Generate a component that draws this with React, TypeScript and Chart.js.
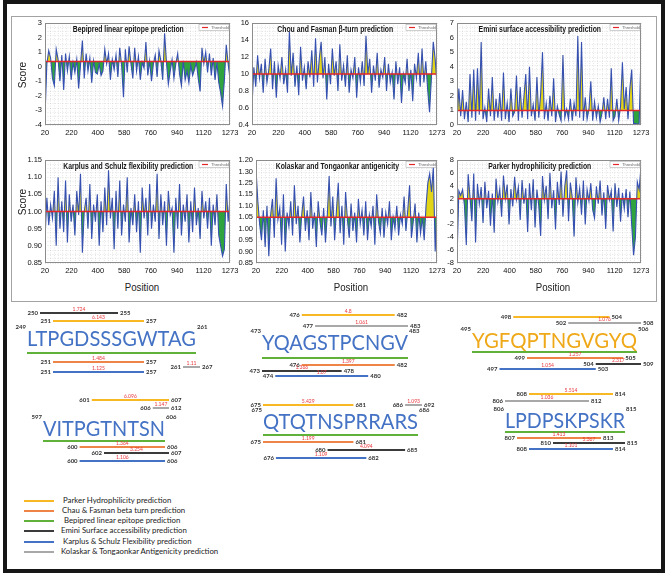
import React, { useEffect, useRef } from "react";
import { Chart, registerables } from "chart.js";

Chart.register(...registerables);

// ---------------- top panels: residue profiles ----------------
const xTickLabels = ["20", "220", "400", "580", "760", "940", "1120", "1273"];
const firstResidue = 20;
const lastResidue = 1273;

const bepipredProfile = [
  -3.4, 0.2, 1.1, 0.6, -0.8, -1.3, 1.2, 0.5, -1.0, 0.8,
  -1.6, 0.9, -0.3, 0.7, -0.9, 0.3, -0.4, 0.5, -1.5, 0.1,
  1.8, -0.8, 0.9, -0.3, 0.6, -1.1, 0.4, -0.4, -0.5, 0.2,
  -0.6, -0.3, 1.2, 0.2, 0.9, -0.9, 0.5, -0.2, 0.8, -0.7,
  1.3, 0.1, -2.1, 1.2, -0.4, 1.4, 0.2, -0.8, 1.3, -0.3,
  0.7, -0.9, 0.3, -0.1, 1.7, -0.6, 0.4, -1.0, 0.2, 0.8,
  -0.7, 1.1, 0.4, -0.9, 2.3, 0.3, -1.2, -0.3, 0.5, -0.8,
  0.2, 0.9, -0.5, -1.3, 0.4, -0.9, -0.3, -1.1, 0.1, -0.6,
  -0.2, 0.3, -0.8, -1.7, 1.3, 0.2, 1.0, -0.4, 0.9, -0.6,
  0.6, -0.9, 0.3, -1.1, -1.8, -2.7, -0.9, 1.5, 0.2, -0.8,
];
const chouFasmanProfile = [
  0.62, 1.08, 0.85, 1.22, 0.95, 1.12, 0.78, 1.18, 0.9, 1.05,
  1.3, 0.82, 1.15, 0.72, 1.1, 0.95, 1.2, 0.88, 1.05, 0.78,
  1.5, 0.98, 1.25, 0.85, 1.1, 0.75, 1.32, 0.92, 1.08, 0.82,
  1.15, 0.96, 1.28, 0.85, 1.42, 0.9, 1.18, 1.38, 0.95, 1.2,
  0.7, 1.12, 0.88, 1.3, 0.98, 1.15, 0.8, 1.35, 0.92, 1.1,
  0.85, 1.22, 0.78, 1.05, 0.95, 1.2, 0.72, 1.08, 0.9, 1.15,
  0.86, 1.45, 1.0, 1.18, 0.78, 1.1, 0.92, 1.25, 0.84, 1.05,
  0.96, 1.2, 0.8, 1.12, 0.9, 1.02, 0.7, 1.15, 0.88, 1.08,
  0.66, 1.0, 0.9, 1.18, 0.8, 1.05, 0.68, 1.12, 0.95, 1.25,
  0.85, 1.3, 0.9, 1.15, 0.82, 0.55, 0.95, 1.38, 1.18, 0.88,
];
const eminiProfile = [
  0.3, 2.5, 0.6, 2.4, 0.4, 1.6, 0.2, 3.5, 0.5, 3.8,
  0.3, 3.9, 0.7, 5.7, 0.4, 1.2, 0.2, 2.5, 0.6, 3.3,
  0.3, 1.8, 0.5, 2.2, 0.3, 3.6, 0.4, 1.5, 0.2, 2.5,
  0.6, 0.9, 3.4, 0.3, 2.6, 0.5, 1.9, 3.5, 0.4, 4.0,
  0.6, 1.4, 0.3, 3.3, 0.5, 2.1, 5.0, 0.4, 1.5, 0.3,
  2.0, 0.6, 3.2, 0.2, 1.3, 0.7, 0.3, 4.8, 0.5, 1.1,
  0.4, 1.8, 0.3, 1.5, 0.6, 6.1, 0.5, 5.7, 0.3, 1.9,
  0.4, 1.1, 3.0, 0.3, 1.6, 0.5, 1.3, 0.2, 0.8, 1.9,
  0.4, 1.8, 0.5, 3.9, 0.3, 0.6, 1.8, 0.3, 1.3, 4.3,
  1.1, 2.6, 0.4, 2.5, 3.8, 0.1, 0.1, 0.05, 0.1, 4.9,
];
const karplusProfile = [
  0.92, 1.04, 0.96, 1.02, 0.98, 1.06, 0.9, 1.1, 0.95, 1.03,
  0.94, 1.09, 0.91, 1.05, 0.97, 1.02, 0.93, 1.06, 0.99, 1.11,
  0.88, 1.0, 1.04, 0.95, 1.08, 0.92, 1.02, 0.97, 1.05, 0.9,
  1.03, 0.94, 1.07, 0.96, 1.12, 0.98, 1.04, 0.89, 1.06, 0.95,
  1.09, 0.93, 1.02, 0.97, 1.1, 0.91, 1.01, 0.96, 1.05, 0.94,
  1.03, 0.88, 1.07, 0.98, 1.04, 0.93, 1.08, 0.95, 1.02, 0.97,
  1.11, 0.92, 1.05, 0.96, 1.03, 0.9, 1.06, 0.99, 1.01, 0.88,
  1.04, 0.95, 1.08, 0.93, 1.02, 0.97, 1.05, 0.91, 1.03, 0.94,
  1.07, 0.96, 1.01, 0.92, 1.06, 0.98, 1.03, 0.95, 1.04, 0.9,
  1.02, 0.96, 1.05, 0.93, 0.9, 0.87, 0.89, 1.08, 0.97, 1.04,
];
const kolaskarProfile = [
  1.26, 1.12, 1.02, 0.95, 1.08, 0.92, 1.1, 0.88, 1.06, 1.13,
  0.96, 1.22, 1.04, 1.09, 0.93, 1.15, 0.9, 1.07, 1.01, 1.12,
  0.97, 1.19, 1.02, 1.1, 0.94, 1.06, 1.14, 0.99, 1.08, 0.95,
  1.16, 1.0, 1.07, 0.92, 1.12, 1.03, 0.97, 1.09, 0.94, 1.06,
  1.23, 1.01, 1.14, 0.95, 1.08, 1.2, 0.98, 1.1, 0.93, 1.16,
  1.04, 0.96, 1.11, 0.99, 1.07, 0.94, 1.13, 1.02, 1.08, 0.97,
  1.12, 0.95, 1.06, 1.01, 1.1, 0.93, 1.15, 1.03, 0.98, 1.09,
  0.96, 1.07, 1.02, 1.12, 0.95, 1.05, 1.0, 1.1, 0.97, 1.06,
  1.02, 1.14, 0.99, 1.08, 1.19, 0.96, 1.03, 1.11, 0.94, 1.07,
  0.98, 1.05, 0.95, 1.1, 1.2, 1.24, 1.16, 1.27, 0.9, 1.1,
];
const parkerProfile = [
  -7.5, 3.2, 2.5, 3.4, 1.0, -5.2, 5.8, 2.2, -1.5, 5.9,
  -4.8, 4.3, 1.2, 3.8, -1.8, 4.6, 0.5, 3.2, -2.2, 2.8,
  -3.3, 5.1, 1.5, 3.5, -0.8, 5.6, 2.0, 4.2, -2.0, 3.5,
  0.8, 5.4, 1.9, 3.8, -1.3, 4.9, 1.2, 3.6, -3.2, 4.4,
  0.2, 5.0, -2.5, 3.4, 0.9, -3.8, 5.5, 1.8, 4.0, -1.2,
  6.0, 0.5, 3.3, -2.8, 4.6, 1.0, 6.2, -0.8, 3.9, 6.4,
  -1.5, 4.5, 2.2, -3.9, 5.3, 1.4, 3.6, -0.5, 4.8, -2.0,
  3.4, 1.6, 4.4, 0.3, -1.0, 3.9, 1.2, 4.8, -0.6, 3.0,
  -2.7, 4.1, 1.8, 3.2, -3.1, 4.4, 0.7, 3.7, -1.6, 2.9,
  0.4, 3.5, -0.9, 3.1, -2.1, -6.8, -4.0, 4.6, 3.4, 7.0,
];

const panelTitles = [
  "Bepipred linear epitope prediction",
  "Chou and Fasman \u03b2-turn prediction",
  "Emini surface accessibility prediction",
  "Karplus and Schulz flexibility prediction",
  "Kolaskar and Tongaonkar antigenicity",
  "Parker hydrophilicity prediction",
];
const panelThresholds = [0.35, 1.0, 1.0, 1.0, 1.05, 2.0];

const bepipredYTicks = [-4, -3, -2, -1, 0, 1, 2, 3];
const bepipredYLabels = ["-4", "-3", "-2", "-1", "0", "1", "2", "3"];
const chouYTicks = [0.4, 0.6, 0.8, 1.0, 1.2, 1.4, 1.6];
const chouYLabels = ["0.4", "0.6", "0.8", "10", "12", "14", "16"];
const eminiYTicks = [0, 1, 2, 3, 4, 5, 6, 7];
const eminiYLabels = ["0", "1", "2", "3", "4", "5", "6", "7"];
const karplusYTicks = [0.85, 0.9, 0.95, 1.0, 1.05, 1.1, 1.15];
const karplusYLabels = ["0.85", "0.90", "0.95", "1.00", "1.05", "1.10", "1.15"];
const kolaskarYTicks = [0.85, 0.9, 0.95, 1.0, 1.05, 1.1, 1.15, 1.2, 1.25, 1.3];
const kolaskarYLabels = ["0.85", "0.90", "0.95", "1.00", "1.05", "1.10", "1.15", "1.25", "1.30", "1.20"];
const parkerYTicks = [-8, -6, -4, -2, 0, 2, 4, 6, 8];
const parkerYLabels = ["-8", "-6", "-4", "-2", "0", "2", "4", "6", "8"];

const panelProfiles = [bepipredProfile, chouFasmanProfile, eminiProfile, karplusProfile, kolaskarProfile, parkerProfile];
const panelYTicks = [bepipredYTicks, chouYTicks, eminiYTicks, karplusYTicks, kolaskarYTicks, parkerYTicks];
const panelYLabels = [bepipredYLabels, chouYLabels, eminiYLabels, karplusYLabels, kolaskarYLabels, parkerYLabels];

// ---------------- bottom: predicted epitopes ----------------
const epitopeSequences = ["LTPGDSSSGWTAG", "YQAGSTPCNGV", "YGFQPTNGVGYQ", "VITPGTNTSN", "QTQTNSPRRARS", "LPDPSKPSKR"];
const epitopeStarts = [249, 473, 495, 597, 675, 806];
const epitopeEnds = [261, 483, 506, 606, 686, 815];

const parkerStarts = [251, 476, 498, 601, 675, 808];
const parkerEnds = [257, 482, 504, 607, 681, 814];
const parkerScores = ["6.143", "4.8", "", "6.096", "5.429", "5.514"];
const chouStarts = [251, 476, 499, 600, 675, 807];
const chouEnds = [257, 482, 505, 606, 681, 813];
const chouScores = ["1.484", "1.397", "1.257", "1.364", "1.199", "1.413"];
const bepipredStarts = epitopeStarts;
const bepipredEnds = epitopeEnds;
const bepipredScores = ["", "", "", "", "", ""];
const eminiStarts = [250, 473, 504, 602, 680, 810];
const eminiEnds = [255, 478, 509, 607, 685, 815];
const eminiScores = ["1.724", "1.366", "2.317", "3.254", "4.094", "5.367"];
const karplusStarts = [251, 474, 497, 600, 676, 808];
const karplusEnds = [257, 480, 503, 606, 682, 814];
const karplusScores = ["1.125", "1.07", "1.054", "1.106", "1.109", "1.101"];
const kolaskarStarts = [261, 477, 502, 606, 686, 806];
const kolaskarEnds = [267, 483, 508, 612, 692, 812];
const kolaskarScores = ["1.11", "1.061", "1.076", "1.147", "1.093", "1.036"];

const methodKeys = ["parker", "chou", "bepipred", "emini", "karplus", "kolaskar"];
const methodNames = [
  "Parker Hydrophilicity prediction",
  "Chau & Fasman beta turn prediction",
  "Bepipred linear epitope prediction",
  "Emini Surface accessibility prediction",
  "Karplus & Schulz Flexibility prediction",
  "Kolaskar & Tongaonkar Antigenicity prediction",
];
const methodRanges: Record<string, { s: number[]; e: number[]; v: string[] }> = {
  parker: { s: parkerStarts, e: parkerEnds, v: parkerScores },
  chou: { s: chouStarts, e: chouEnds, v: chouScores },
  bepipred: { s: bepipredStarts, e: bepipredEnds, v: bepipredScores },
  emini: { s: eminiStarts, e: eminiEnds, v: eminiScores },
  karplus: { s: karplusStarts, e: karplusEnds, v: karplusScores },
  kolaskar: { s: kolaskarStarts, e: kolaskarEnds, v: kolaskarScores },
};

// ---------------- styles & layout ----------------
const methodColors: Record<string, string> = {
  parker: "#f7b823",
  chou: "#ef8448",
  bepipred: "#5fb13a",
  emini: "#3b3b3b",
  karplus: "#4472c4",
  kolaskar: "#a8a8a8",
};
const sequenceColors = ["#4472c4", "#4472c4", "#efa818", "#4472c4", "#4472c4", "#4472c4"];

const NARROW = "'Liberation Sans', Arimo, sans-serif";
const SOFT = "Lato, 'Open Sans', sans-serif";

const panelRects = [
  { l: 45, t: 23, w: 185, h: 102 },
  { l: 252, t: 23, w: 185, h: 102 },
  { l: 457, t: 23, w: 184, h: 102 },
  { l: 45, t: 160, w: 185, h: 103 },
  { l: 256, t: 160, w: 181, h: 103 },
  { l: 457, t: 160, w: 184, h: 103 },
];
const AXW = 34, AXH = 16, PT = 6, PR = 14;

const groupLayout = [
  { left: 27, right: 196, cy: 338, lanes: { emini: -25, parker: -17, bepipred: 15, chou: 24, kolaskar: 29, karplus: 34 } },
  { left: 262, right: 408, cy: 342, lanes: { parker: -27, kolaskar: -16, bepipred: 16, chou: 23, emini: 29, karplus: 34 } },
  { left: 472, right: 637, cy: 340, lanes: { parker: -23, kolaskar: -17, bepipred: 12, chou: 18, emini: 24, karplus: 29 } },
  { left: 43, right: 165, cy: 428, lanes: { parker: -28, kolaskar: -20, bepipred: 13, chou: 19, emini: 25, karplus: 33 } },
  { left: 263, right: 418, cy: 421, lanes: { parker: -16, kolaskar: -16, bepipred: 14, chou: 21, emini: 29, karplus: 37 } },
  { left: 505, right: 625, cy: 420, lanes: { parker: -26, kolaskar: -19, bepipred: 12, chou: 18, emini: 23, karplus: 29 } },
] as { left: number; right: number; cy: number; lanes: Record<string, number> }[];
const GPAD = 46, GTOP = 45, GBOT = 50, CLIP_R = 4, CLIP_L = 4;

// ---------------- plugins ----------------
const panelDecor = {
  id: "panelDecor",
  afterDatasetsDraw(chart: any, _a: any, opts: any) {
    const { ctx, chartArea: a } = chart;
    ctx.save();
    ctx.strokeStyle = "#8c8c8c";
    ctx.lineWidth = 1;
    ctx.strokeRect(a.left + 0.5, a.top + 0.5, a.width - 1, a.height - 1);
    ctx.restore();

    ctx.save();
    ctx.fillStyle = "#151515";
    ctx.font = `600 9px ${NARROW}`;
    ctx.textAlign = "center";
    ctx.textBaseline = "middle";
    ctx.translate(a.left + a.width * 0.45, a.top + 7);
    ctx.scale(0.76, 1);
    ctx.fillText(opts.title, 0, 0);
    ctx.restore();

    ctx.save();
    const bx = a.right - 31, by = a.top + 1.5;
    ctx.fillStyle = "#fff";
    ctx.fillRect(bx, by, 30, 6);
    ctx.strokeStyle = "#b0b0b0";
    ctx.lineWidth = 0.6;
    ctx.strokeRect(bx, by, 30, 6);
    ctx.strokeStyle = "#e3262a";
    ctx.lineWidth = 1.2;
    ctx.beginPath();
    ctx.moveTo(bx + 3, by + 3);
    ctx.lineTo(bx + 9, by + 3);
    ctx.stroke();
    ctx.fillStyle = "#666";
    ctx.font = `4px ${NARROW}`;
    ctx.textAlign = "left";
    ctx.textBaseline = "middle";
    ctx.fillText("Threshold", bx + 12, by + 3.2);
    ctx.restore();
  },
};

const epitopeDecor = {
  id: "epitopeDecor",
  afterDatasetsDraw(chart: any, _a: any, opts: any) {
    const { ctx, chartArea: a, scales } = chart;
    const x = scales.x, y = scales.y;
    const gi: number = opts.index;
    const seq = epitopeSequences[gi];
    const x0 = x.getPixelForValue(epitopeStarts[gi] - 0.5);
    const x1 = x.getPixelForValue(epitopeEnds[gi] + 0.5);
    const yc = y.getPixelForValue(0);
    ctx.save();
    ctx.font = `22px ${SOFT}`;
    const w = ctx.measureText(seq).width;
    ctx.translate((x0 + x1) / 2, yc + 8);
    ctx.scale((x1 - x0) / w, 1);
    ctx.fillStyle = sequenceColors[gi];
    ctx.textAlign = "center";
    ctx.textBaseline = "alphabetic";
    ctx.fillText(seq, 0, 0);
    ctx.restore();

    ctx.save();
    ctx.font = `bold 6px ${SOFT}`;
    ctx.fillStyle = "#333";
    ctx.textBaseline = "middle";
    ctx.textAlign = "right";
    ctx.fillText(String(epitopeStarts[gi]), x0 - 1, yc - 11);
    ctx.textAlign = "left";
    ctx.fillText(String(epitopeEnds[gi]), x1 + 1, yc - 11);

    methodKeys.forEach((m) => {
      if (m === "bepipred") return;
      const r = methodRanges[m];
      const s = r.s[gi], e = r.e[gi];
      const sx = Math.max(x.getPixelForValue(s - 0.5), a.left - CLIP_L);
      const ex = Math.min(x.getPixelForValue(e + 0.5), a.right + CLIP_R);
      const sy = y.getPixelForValue(groupLayout[gi].lanes[m]);
      ctx.font = `bold 6px ${SOFT}`;
      ctx.fillStyle = "#333";
      ctx.textAlign = "right";
      ctx.fillText(String(s), sx - 2, sy);
      ctx.textAlign = "left";
      ctx.fillText(String(e), ex + 2, sy);
      if (r.v[gi]) {
        ctx.font = `5px ${SOFT}`;
        ctx.fillStyle = "#e8383d";
        ctx.textAlign = "center";
        ctx.fillText(r.v[gi], (sx + ex) / 2, sy - 3.5);
      }
    });
    ctx.restore();
  },
};

// ---------------- components ----------------
function ScorePanel({ index }: { index: number }) {
  const ref = useRef<HTMLCanvasElement>(null);
  const rect = panelRects[index];
  const cw = rect.w + AXW + PR;
  const ch = rect.h + PT + AXH;
  useEffect(() => {
    const values = panelProfiles[index];
    const thr = panelThresholds[index];
    const ticks = panelYTicks[index];
    const labels = panelYLabels[index];
    const step = (lastResidue - firstResidue) / (values.length - 1);
    const points = values.map((v, i) => ({ x: firstResidue + i * step, y: v }));
    const chart = new Chart(ref.current as HTMLCanvasElement, {
      type: "line",
      data: {
        datasets: [
          {
            data: [
              { x: firstResidue, y: thr },
              { x: lastResidue, y: thr },
            ],
            borderColor: "#e3262a",
            borderWidth: 1.5,
            pointRadius: 0,
            fill: false,
            order: 0,
          },
          {
            data: points,
            borderColor: "#3550b0",
            borderWidth: 1.1,
            pointRadius: 0,
            tension: 0,
            order: 1,
            fill: { target: { value: thr }, above: "#e2d417", below: "#2fa33e" },
          } as any,
        ],
      },
      options: {
        animation: false,
        responsive: false,
        events: [],
        layout: { padding: { left: 0, top: PT, right: PR, bottom: 0 } },
        plugins: {
          legend: { display: false },
          tooltip: { enabled: false },
          panelDecor: { title: panelTitles[index] },
        } as any,
        scales: {
          x: {
            type: "linear",
            min: firstResidue,
            max: lastResidue,
            afterBuildTicks: (s: any) => {
              s.ticks = xTickLabels.map((_, i) => ({
                value: firstResidue + (i * (lastResidue - firstResidue)) / (xTickLabels.length - 1),
              }));
            },
            ticks: {
              callback: (_v: any, i: number) => xTickLabels[i],
              font: { size: 7.5, family: NARROW },
              color: "#111",
              maxRotation: 0,
              autoSkip: false,
              padding: 3,
            },
            grid: { display: false, drawTicks: false },
            border: { display: false },
            afterFit: (s: any) => {
              s.height = AXH;
              s.paddingLeft = 0;
              s.paddingRight = 0;
            },
          },
          y: {
            type: "linear",
            min: ticks[0],
            max: ticks[ticks.length - 1],
            afterBuildTicks: (s: any) => {
              s.ticks = ticks.map((v) => ({ value: v }));
            },
            ticks: {
              callback: (_v: any, i: number) => labels[i],
              font: { size: 7.5, family: NARROW },
              color: "#111",
              padding: 3,
              autoSkip: false,
            },
            grid: { display: false, drawTicks: false },
            border: { display: false },
            afterFit: (s: any) => {
              s.width = AXW;
              s.paddingTop = 0;
              s.paddingBottom = 0;
            },
          },
          xg: {
            type: "linear",
            position: "top",
            min: firstResidue,
            max: lastResidue,
            ticks: { display: false, stepSize: 28, maxTicksLimit: 200 },
            grid: { color: "rgba(0,0,0,0.16)", lineWidth: 0.6, drawTicks: false },
            border: { display: false, dash: [1, 1.5] },
            afterFit: (s: any) => {
              s.height = 0;
              s.paddingLeft = 0;
              s.paddingRight = 0;
            },
          },
          yg: {
            type: "linear",
            position: "right",
            min: 0,
            max: 24,
            ticks: { display: false, stepSize: 1, maxTicksLimit: 200 },
            grid: { color: "rgba(0,0,0,0.16)", lineWidth: 0.6, drawTicks: false },
            border: { display: false, dash: [1, 1.5] },
            afterFit: (s: any) => {
              s.width = 0;
              s.paddingTop = 0;
              s.paddingBottom = 0;
            },
          },
        } as any,
      },
      plugins: [panelDecor],
    });
    return () => chart.destroy();
  }, [index]);
  return (
    <canvas
      ref={ref}
      width={cw}
      height={ch}
      style={{ position: "absolute", left: rect.l - AXW, top: rect.t - PT, width: cw, height: ch }}
    />
  );
}

function EpitopeGroup({ index }: { index: number }) {
  const ref = useRef<HTMLCanvasElement>(null);
  const g = groupLayout[index];
  const cw = g.right - g.left + GPAD * 2;
  const ch = GTOP + GBOT;
  useEffect(() => {
    const datasets = methodKeys.map((m) => {
      const r = methodRanges[m];
      const lane = g.lanes[m];
      return {
        data: [
          { x: r.s[index] - 0.5, y: lane },
          { x: r.e[index] + 0.5, y: lane },
        ],
        borderColor: methodColors[m],
        borderWidth: m === "bepipred" ? 2 : 1.8,
        pointRadius: 0,
        fill: false,
        clip: { left: CLIP_L, right: CLIP_R, top: false, bottom: false },
      } as any;
    });
    const chart = new Chart(ref.current as HTMLCanvasElement, {
      type: "line",
      data: { datasets },
      options: {
        animation: false,
        responsive: false,
        events: [],
        layout: { padding: { left: GPAD, right: GPAD, top: 0, bottom: 0 } },
        plugins: {
          legend: { display: false },
          tooltip: { enabled: false },
          epitopeDecor: { index },
        } as any,
        scales: {
          x: { type: "linear", display: false, min: epitopeStarts[index] - 0.5, max: epitopeEnds[index] + 0.5 },
          y: { type: "linear", display: false, min: -GTOP, max: GBOT, reverse: true },
        },
      },
      plugins: [epitopeDecor],
    });
    return () => chart.destroy();
  }, [index]);
  return (
    <canvas
      ref={ref}
      width={cw}
      height={ch}
      style={{ position: "absolute", left: g.left - GPAD, top: g.cy - GTOP, width: cw, height: ch }}
    />
  );
}

const legendRows = [500.5, 510.5, 521, 531, 542, 552];
const legendTextX = [63, 62, 64, 61, 63, 61];

export default function App() {
  useEffect(() => {
    document.body.style.margin = "0";
  }, []);
  return (
    <div
      style={{
        position: "fixed",
        left: 0,
        top: 0,
        width: 666,
        height: 573,
        background: "#fff",
        overflow: "hidden",
        fontFamily: SOFT,
      }}
    >
      <div
        style={{
          position: "absolute",
          left: 3,
          top: 0,
          width: 662,
          height: 573,
          border: "4px solid #161616",
          boxSizing: "border-box",
        }}
      />
      <div
        style={{
          position: "absolute",
          left: 11,
          top: 16,
          width: 646,
          height: 286,
          border: "1.5px solid #a3a3a3",
          boxSizing: "border-box",
        }}
      />
      {panelRects.map((_, i) => (
        <ScorePanel key={i} index={i} />
      ))}
      {[75, 202].map((cy, i) => (
        <div
          key={"s" + i}
          style={{
            position: "absolute",
            left: 22,
            top: cy,
            transform: "translate(-50%, -50%) rotate(-90deg) scaleX(0.92)",
            fontSize: 11,
            fontFamily: NARROW,
            color: "#222",
            whiteSpace: "nowrap",
          }}
        >
          Score
        </div>
      ))}
      {[3, 4, 5].map((pi) => (
        <div
          key={"p" + pi}
          style={{
            position: "absolute",
            left: panelRects[pi].l + panelRects[pi].w / 2 + 4,
            top: 287,
            transform: "translate(-50%, -50%) scaleX(0.88)",
            fontSize: 11,
            fontFamily: NARROW,
            color: "#222",
            whiteSpace: "nowrap",
          }}
        >
          Position
        </div>
      ))}
      {epitopeSequences.map((_, i) => (
        <EpitopeGroup key={"g" + i} index={i} />
      ))}
      {methodKeys.map((m, i) => (
        <React.Fragment key={"l" + m}>
          <div
            style={{
              position: "absolute",
              left: 24,
              top: legendRows[i] - 1,
              width: 30,
              height: 2,
              background: methodColors[m],
            }}
          />
          <div
            style={{
              position: "absolute",
              left: legendTextX[i],
              top: legendRows[i] - 1,
              transform: "translateY(-50%)",
              fontSize: 7.8,
              color: "#222",
              whiteSpace: "nowrap",
              fontFamily: SOFT,
            }}
          >
            {methodNames[i]}
          </div>
        </React.Fragment>
      ))}
    </div>
  );
}
